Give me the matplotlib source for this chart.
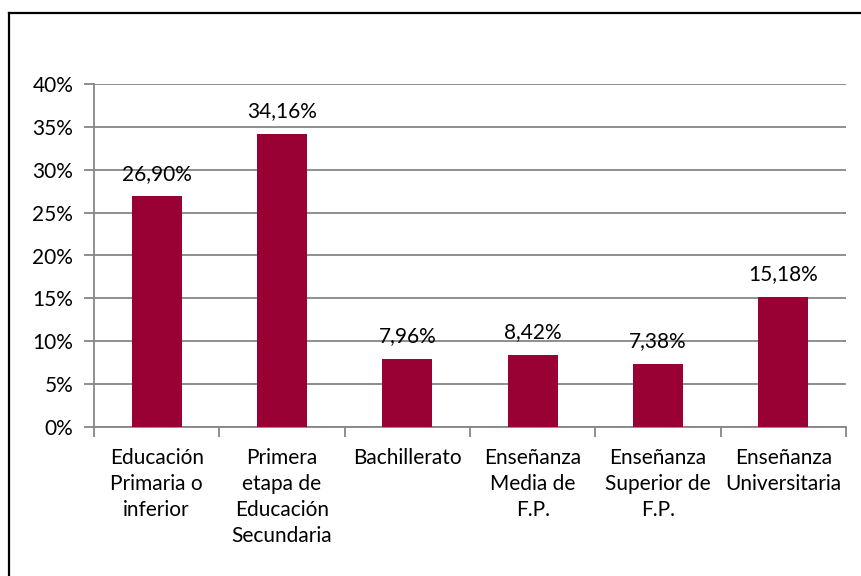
import matplotlib
matplotlib.use("Agg")
import matplotlib.pyplot as plt
from matplotlib.lines import Line2D
import numpy as np

# datos
categorias = ["Educación\nPrimaria o\ninferior",
              "Primera\netapa de\nEducación\nSecundaria",
              "Bachillerato",
              "Enseñanza\nMedia de\nF.P.",
              "Enseñanza\nSuperior de\nF.P.",
              "Enseñanza\nUniversitaria"]
valores = [26.90, 34.16, 7.96, 8.42, 7.38, 15.18]
etiquetas = ["26,90%", "34,16%", "7,96%", "8,42%", "7,38%", "15,18%"]
ticks_y = [0, 5, 10, 15, 20, 25, 30, 35, 40]

plt.rcParams['font.family'] = ['Lato', 'DejaVu Sans']

W, H = 862, 576
fig = plt.figure(figsize=(W / 100, H / 100), dpi=100)
ax = fig.add_axes([94 / W, 1 - 427 / H, (846 - 94) / W, (427 - 84) / H])

x = np.arange(len(valores))
ax.bar(x, valores, width=0.4, color='#990033', zorder=3)
ax.set_xlim(-0.5, len(valores) - 0.5)
ax.set_ylim(0, 40)

ax.set_yticks(ticks_y)
ax.set_yticklabels([f"{t}%" for t in ticks_y], fontsize=15)
ax.yaxis.grid(True, color='#868686', linewidth=1.3, zorder=0)
ax.tick_params(axis='y', length=7, width=1.3, color='#868686', pad=8)

ax.set_xticks(np.arange(-0.5, len(valores)), minor=False)
ax.set_xticklabels([])
ax.set_xticks(x, minor=True)
ax.set_xticklabels(categorias, minor=True, fontsize=15, linespacing=1.38, va='top')
ax.tick_params(axis='x', which='major', length=7, width=1.3, color='#868686', direction='out')
ax.tick_params(axis='x', which='minor', length=0, pad=15)

for s in ['top', 'right']:
    ax.spines[s].set_visible(False)
for s in ['left', 'bottom']:
    ax.spines[s].set_color('#868686')
    ax.spines[s].set_linewidth(1.3)

for xi, v, t in zip(x, valores, etiquetas):
    ax.annotate(t, (xi, v), xytext=(0, 9), textcoords='offset points',
                ha='center', va='bottom', fontsize=15)

# borde del gráfico (recortado a la derecha y abajo)
fig.add_artist(Line2D([9 / W, 9 / W], [0, 1 - 12.5 / H], color='black', linewidth=1.6,
                      transform=fig.transFigure))
fig.add_artist(Line2D([9 / W, 1], [1 - 12.5 / H, 1 - 12.5 / H], color='black', linewidth=1.6,
                      transform=fig.transFigure))

fig.savefig("out.png", dpi=100)
